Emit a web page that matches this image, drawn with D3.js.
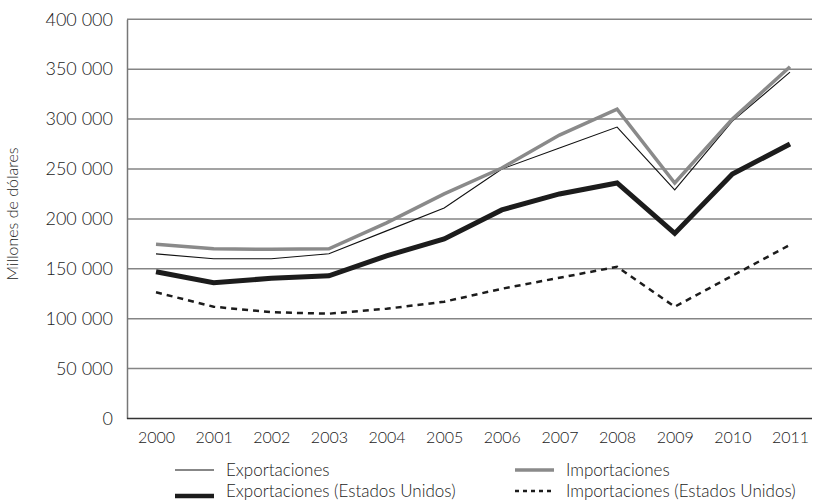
<!DOCTYPE html>
<html><head><meta charset="utf-8">
<script src="https://cdn.jsdelivr.net/npm/d3@7"></script>
<style>
body{margin:0;background:#fff;}
svg{display:block;}
text{font-family:Lato,"Open Sans",sans-serif;fill:#1a1a1a;font-weight:300;}
</style></head>
<body>
<svg id="c" width="815" height="504"></svg>
<script>
const years = ["2000","2001","2002","2003","2004","2005","2006","2007","2008","2009","2010","2011"];
const exportaciones = [165000,160000,160000,165000,188000,211000,250000,271000,292000,229000,298000,347000];
const importaciones = [174500,170000,169500,170000,196000,225000,251000,284000,310000,236000,300000,352500];
const exportacionesEEUU = [147000,136000,140500,143000,163000,180000,209000,225000,236000,185500,245000,275000];
const importacionesEEUU = [126500,112000,106500,105000,110000,117000,130000,141000,152000,112000,143000,174000];
const yTicks = [0,50000,100000,150000,200000,250000,300000,350000,400000];
const yTitle = "Millones de dólares";
const legendLabels = ["Exportaciones","Importaciones","Exportaciones (Estados Unidos)","Importaciones (Estados Unidos)"];

const svg = d3.select("#c");
const pL = 127, pR = 812, pT = 19.3, pB = 418.5;
const x = d3.scalePoint().domain(years).range([156, 790]);
const y = d3.scaleLinear().domain([0,400000]).range([pB, pT]);
const fmt = v => d3.format(",")(v).replace(/,/g, " ");

// gridlines
svg.append("g").selectAll("line").data(yTicks.filter(d=>d>0)).join("line")
  .attr("x1", pL).attr("x2", pR)
  .attr("y1", d=>y(d)).attr("y2", d=>y(d))
  .attr("stroke", "#858585").attr("stroke-width", 1.5);

// y axis
const ya = svg.append("g").attr("transform", `translate(${pL},0)`)
  .call(d3.axisLeft(y).tickValues(yTicks).tickSize(0).tickPadding(14).tickFormat(fmt));
ya.select(".domain").attr("stroke","#777").attr("stroke-width",1.5);
ya.selectAll("text").attr("font-size", 18).attr("font-family","Lato,sans-serif").attr("font-weight",300).attr("fill","#1a1a1a");

// x axis
const xa = svg.append("g").attr("transform", `translate(0,${pB})`)
  .call(d3.axisBottom(x).tickSize(0).tickPadding(13));
xa.select(".domain").attr("d", `M${pL},0H${pR}`).attr("stroke","#333").attr("stroke-width",1.5);
xa.selectAll("text").attr("font-size", 16).attr("font-family","Lato,sans-serif").attr("font-weight",300).attr("fill","#1a1a1a");

// y title
svg.append("text").attr("transform","translate(18,214) rotate(-90)")
  .attr("text-anchor","middle").attr("font-size",16).text(yTitle);

const line = d3.line().x((d,i)=>x(years[i])).y(d=>y(d));
const styles = [
  {data: exportaciones, stroke:"#111", w:1.1, dash:null},
  {data: importaciones, stroke:"#8a8a8a", w:3.5, dash:null},
  {data: exportacionesEEUU, stroke:"#1c1c1c", w:5, dash:null},
  {data: importacionesEEUU, stroke:"#1c1c1c", w:2.5, dash:"6,5"}
];
[styles[3], styles[2], styles[0], styles[1]].forEach(s=>{
  svg.append("path").datum(s.data).attr("d", line)
    .attr("fill","none").attr("stroke", s.stroke).attr("stroke-width", s.w)
    .attr("stroke-linejoin","miter").attr("stroke-dasharray", s.dash);
});

// legend
const leg = [
  {x:175, y:470, s:styles[0], label:legendLabels[0]},
  {x:515, y:470, s:styles[1], label:legendLabels[1]},
  {x:175, y:491, s:styles[2], label:legendLabels[2]},
  {x:515, y:491, s:styles[3], label:legendLabels[3]}
];
leg.forEach(l=>{
  const ly = l.y + (l.s.w > 4 ? 5 : 0);
  svg.append("line").attr("x1", l.x).attr("x2", l.x+39).attr("y1", ly).attr("y2", ly)
    .attr("stroke", l.s.stroke).attr("stroke-width", l.s.w===5?4.5:l.s.w)
    .attr("stroke-dasharray", l.s.dash ? "4,4" : null);
  svg.append("text").attr("x", l.x+51).attr("y", l.y+6).attr("font-size",17).text(l.label);
});
</script>
</body></html>
